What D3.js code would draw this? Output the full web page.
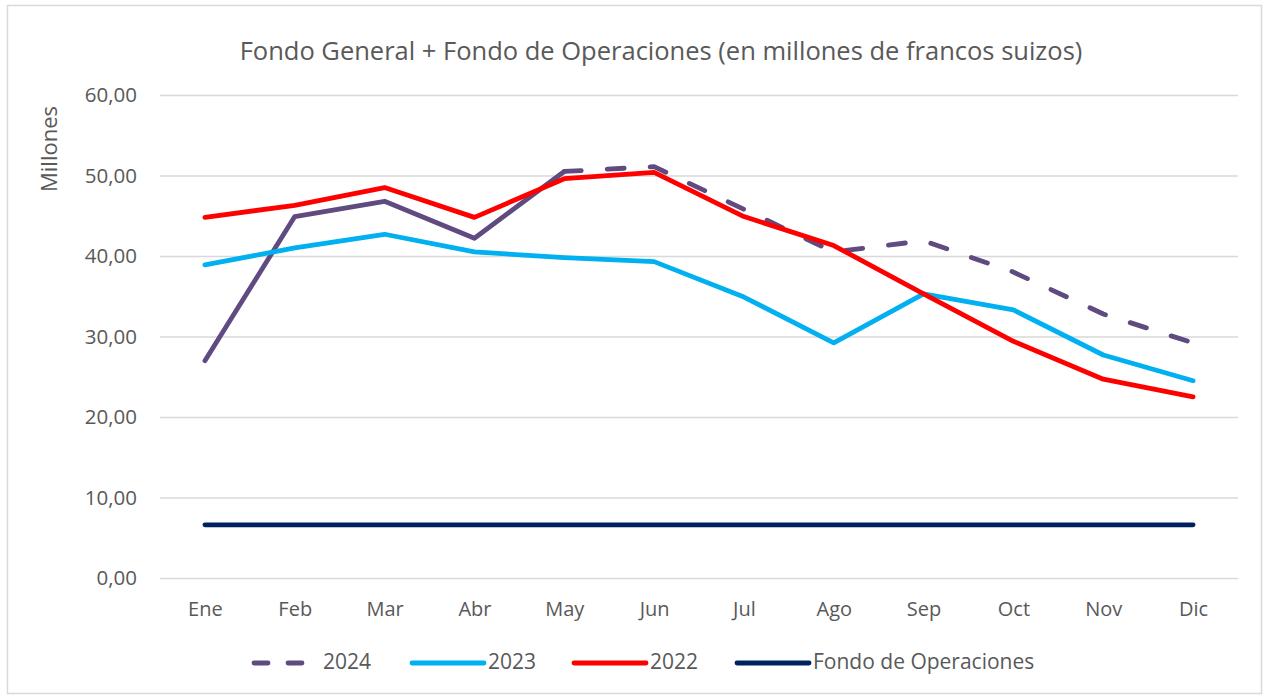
<!DOCTYPE html>
<html><head><meta charset="utf-8">
<script src="https://cdn.jsdelivr.net/npm/d3@7"></script>
<style>
body{margin:0;background:#fff;}
text{font-family:"Open Sans",Lato,sans-serif;fill:#595959;}
</style></head>
<body><svg id="c" width="1264" height="697"></svg>
<script>
const months = ["Ene","Feb","Mar","Abr","May","Jun","Jul","Ago","Sep","Oct","Nov","Dic"];
const v2024 = [27.0, 44.9, 46.8, 42.2, 50.5, 51.1, 45.8, 40.5, 41.9, 38.0, 32.8, 29.2];
const v2023 = [38.9, 41.0, 42.7, 40.5, 39.8, 39.3, 34.9, 29.2, 35.3, 33.3, 27.7, 24.5];
const v2022 = [44.8, 46.3, 48.5, 44.8, 49.6, 50.4, 44.9, 41.3, 35.3, 29.4, 24.7, 22.5];
const fondoOp = [6.6, 6.6, 6.6, 6.6, 6.6, 6.6, 6.6, 6.6, 6.6, 6.6, 6.6, 6.6];
const yTicks = [0, 10, 20, 30, 40, 50, 60];
const title = "Fondo General + Fondo de Operaciones (en millones de francos suizos)";
const yTitle = "Millones";
// 2024: observed months (solid) end at this index; projection (dashed) after
const observedUntil2024 = 4;

const series = [
  {name:"2024", values:v2024, color:"#5f4b80", dash:"17 26", solidUntil:observedUntil2024},
  {name:"2023", values:v2023, color:"#00b0f0", dash:null},
  {name:"2022", values:v2022, color:"#ff0000", dash:null},
  {name:"Fondo de Operaciones", values:fondoOp, color:"#002060", dash:null}
];

const svg = d3.select("#c");
svg.append("rect").attr("x",7.5).attr("y",5.5).attr("width",1254).attr("height",688)
  .attr("fill","#fff").attr("stroke","#d9d9d9").attr("stroke-width",1.5);

const x = d3.scalePoint().domain(months).range([160,1238]).padding(0.5);
const y = d3.scaleLinear().domain([0,60]).range([578,95]);

const yAxis = d3.axisLeft(y).tickValues(yTicks).tickSize(-(1238-160)).tickPadding(23)
  .tickFormat(d => d3.format(".2f")(d).replace(".", ","));
const gy = svg.append("g").attr("transform","translate(160,0)").call(yAxis);
gy.select(".domain").remove();
gy.selectAll(".tick line").attr("stroke","#d9d9d9").attr("stroke-width",1.5);
gy.selectAll(".tick text").attr("font-size",20.5).attr("fill","#595959")
  .style("font-family","'Open Sans',Lato,sans-serif");

const xAxis = d3.axisBottom(x).tickSize(0).tickPadding(24);
const gx = svg.append("g").attr("transform","translate(0,578)").call(xAxis);
gx.select(".domain").remove();
gx.selectAll(".tick text").attr("font-size",20).attr("fill","#595959")
  .style("font-family","'Open Sans',Lato,sans-serif");

const idx = d3.range(months.length);
function pathFor(vals, ids){
  return d3.line().x(i=>x(months[i])).y(i=>y(vals[i]))(ids);
}
series.forEach(s=>{
  const add = (ids, dash) => svg.append("path").attr("d", pathFor(s.values, ids))
    .attr("fill","none").attr("stroke",s.color).attr("stroke-width",4.8)
    .attr("stroke-linecap","round").attr("stroke-linejoin","round")
    .attr("stroke-dasharray",dash);
  if (s.dash) {
    add(idx.filter(i=>i<=s.solidUntil), null);
    add(idx.filter(i=>i>=s.solidUntil), s.dash);
  } else add(idx, null);
});

svg.append("text").attr("x",661).attr("y",53).attr("text-anchor","middle")
  .attr("dominant-baseline","middle").attr("font-size",25.5).text(title);

svg.append("text").attr("transform","translate(51,149) rotate(-90)")
  .attr("text-anchor","middle").attr("dominant-baseline","middle")
  .attr("font-size",22).text(yTitle);

const legX = [254, 412, 574, 737];
const lg = svg.append("g");
series.forEach((s,i)=>{
  const g = lg.append("g").attr("transform",`translate(${legX[i]},663)`);
  g.append("line").attr("x1",0).attr("x2",s.dash?66:72).attr("y1",0).attr("y2",0)
    .attr("stroke",s.color).attr("stroke-width",4.8).attr("stroke-linecap","round")
    .attr("stroke-dasharray", s.dash ? "14 20" : null);
  g.append("text").attr("x", s.dash?69:76).attr("y",0).attr("dominant-baseline","middle")
    .attr("font-size",21).text(s.name);
});
</script></body></html>
